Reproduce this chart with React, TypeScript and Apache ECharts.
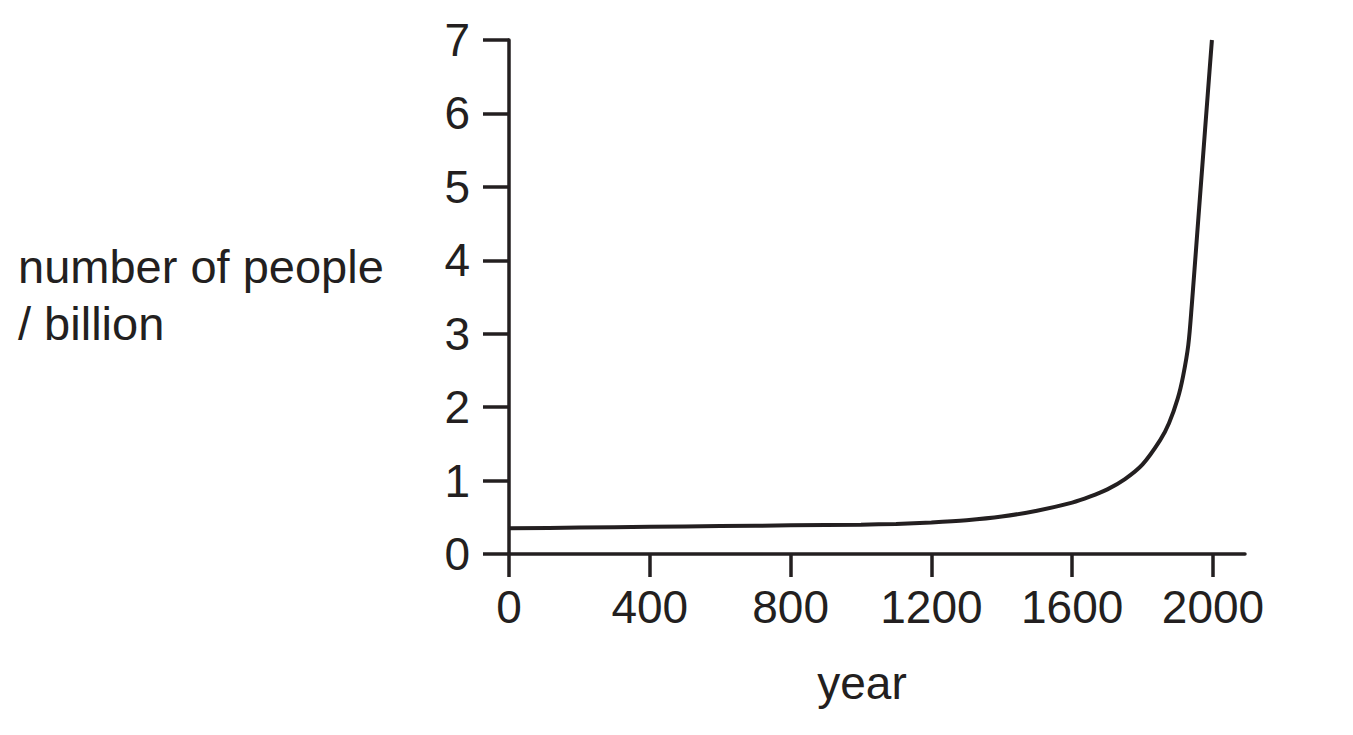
import React, { useEffect, useRef } from "react";
import * as echarts from "echarts";

const years = [0, 200, 400, 600, 800, 1000, 1100, 1200, 1300, 1400, 1500, 1600, 1650, 1700, 1750, 1800, 1850, 1875, 1900, 1915, 1930, 1940, 1955, 1970, 1985, 1997];
const population = [0.35, 0.36, 0.37, 0.38, 0.39, 0.4, 0.41, 0.43, 0.46, 0.51, 0.59, 0.7, 0.78, 0.88, 1.02, 1.22, 1.55, 1.78, 2.12, 2.42, 2.85, 3.4, 4.35, 5.3, 6.25, 7.0];
const xTicks = [0, 400, 800, 1200, 1600, 2000];
const yTicks = [0, 1, 2, 3, 4, 5, 6, 7];
const yTitleLines = ["number of people", "/ billion"];
const xTitle = "year";

const INK = "#231f20";
const FONT = "Liberation Sans, Arial, Helvetica, sans-serif";

export default function App() {
  const ref = useRef<HTMLDivElement>(null);
  useEffect(() => {
    if (!ref.current) return;
    const chart = echarts.init(ref.current, undefined, { renderer: "svg" });
    chart.setOption({
      animation: false,
      backgroundColor: "#ffffff",
      grid: { left: 509, right: 108, top: 40, bottom: 181, containLabel: false },
      xAxis: {
        type: "value",
        min: 0,
        max: 2091,
        splitLine: { show: false },
        axisLine: { show: true, lineStyle: { color: INK, width: 3.5 } },
        axisTick: { show: true, inside: false, length: 23, lineStyle: { color: INK, width: 3.5 }, customValues: xTicks },
        axisLabel: {
          color: INK,
          fontSize: 46,
          fontFamily: FONT,
          margin: 30,
          customValues: xTicks,
          formatter: (v: number) => String(v),
        },
      },
      yAxis: {
        type: "value",
        min: 0,
        max: 7,
        interval: 1,
        splitLine: { show: false },
        axisLine: { show: true, lineStyle: { color: INK, width: 3.5 } },
        axisTick: { show: true, inside: false, length: 26, lineStyle: { color: INK, width: 3.5 }, customValues: yTicks },
        axisLabel: { color: INK, fontSize: 46, fontFamily: FONT, margin: 39, customValues: yTicks, formatter: (v: number) => String(v) },
      },
      graphic: [
        {
          type: "text",
          left: 18,
          top: 238,
          style: { text: yTitleLines.join("\n"), fill: INK, font: `47px ${FONT}`, lineHeight: 57 },
        },
        {
          type: "text",
          x: 862,
          y: 683,
          style: { text: xTitle, fill: INK, font: `46px ${FONT}`, textAlign: "center", textVerticalAlign: "middle" },
        },
      ],
      series: [
        {
          type: "line",
          data: years.map((y, i) => [y, population[i]]),
          smooth: 0.3,
          showSymbol: false,
          lineStyle: { color: INK, width: 4 },
        },
      ],
    });
    return () => chart.dispose();
  }, []);
  return <div ref={ref} style={{ position: "absolute", left: 0, top: 0, width: 1353, height: 735 }} />;
}
